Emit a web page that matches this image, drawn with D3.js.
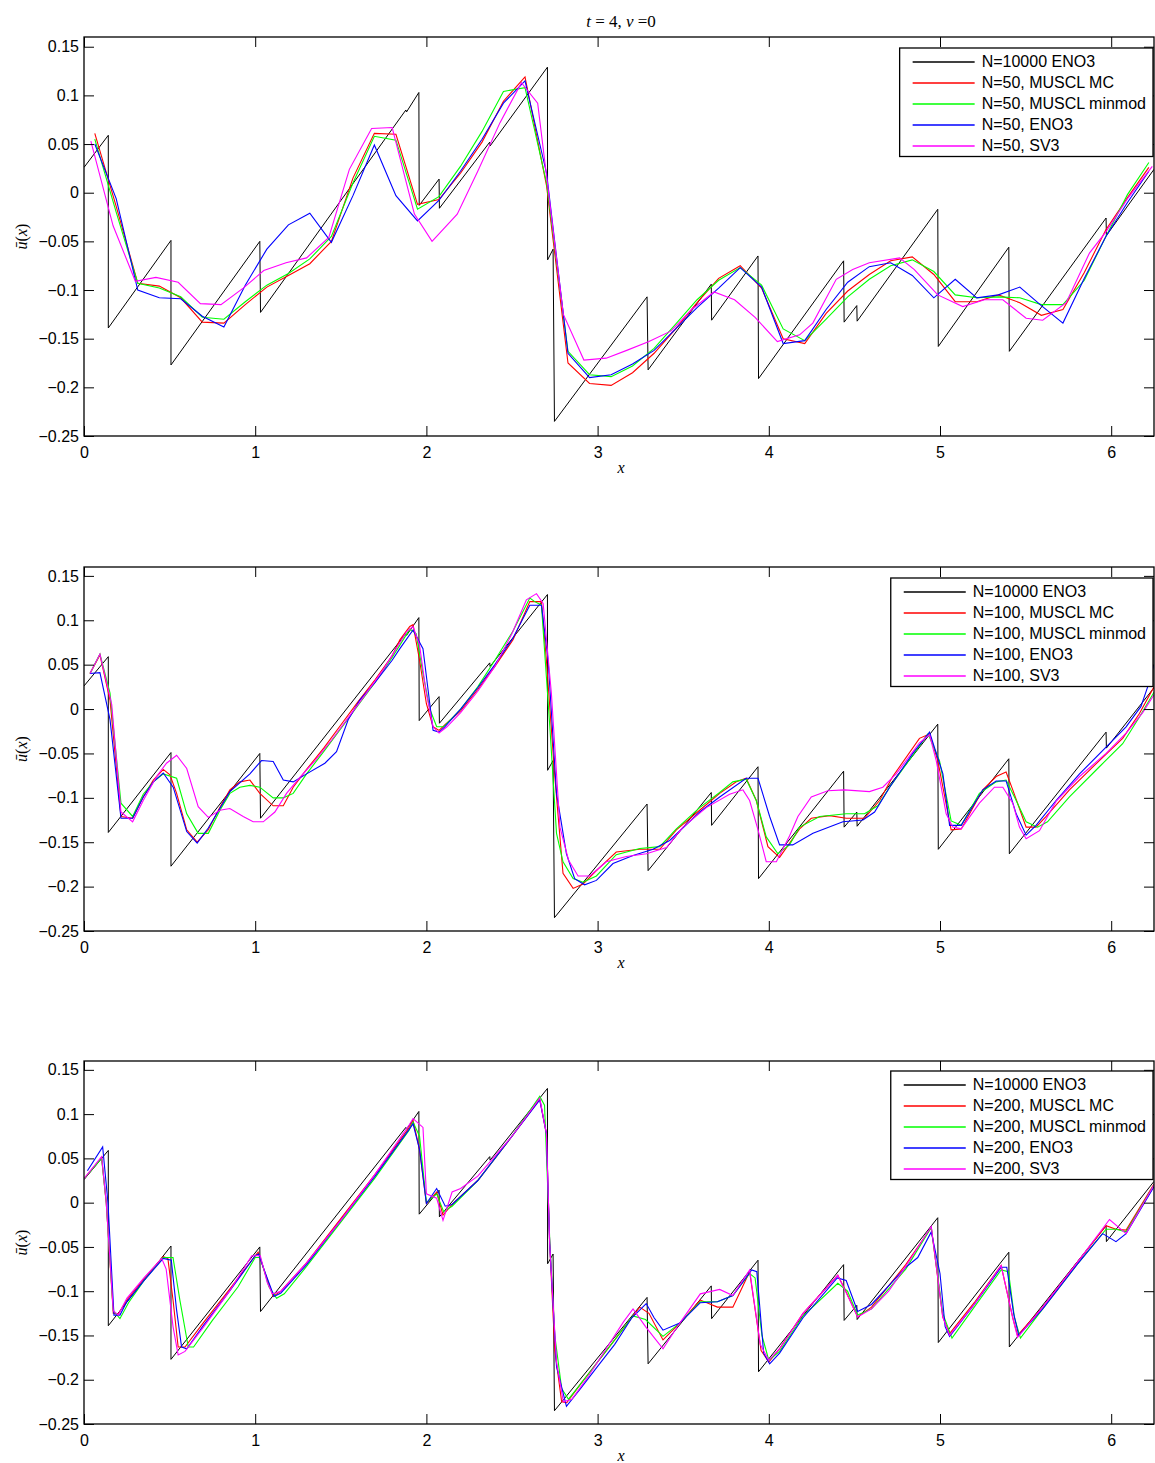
<!DOCTYPE html>
<html><head><meta charset="utf-8">
<script src="https://cdn.jsdelivr.net/npm/d3@7"></script>
<style>body{margin:0;background:#fff}svg{display:block}</style>
</head><body>
<script>
// ---------------- DATA ----------------
const xTicks = [0,1,2,3,4,5,6];
const yTicks = [-0.25,-0.2,-0.15,-0.1,-0.05,0,0.05,0.1,0.15];
const yTickLabels = ["\u22120.25","\u22120.2","\u22120.15","\u22120.1","\u22120.05","0","0.05","0.1","0.15"];
const seriesNames = ["MUSCL MC","MUSCL minmod","ENO3","SV3"];
const refLabel = "N=10000 ENO3";
const gridSizes = [50,100,200];
const titleText = ["t"," = 4, ","\u03bd"," =0"];

// reference solution (N=10000 ENO3), corners
const ref = [[0,0.026],[0.142,0.059],[0.142,-0.139],[0.508,-0.049],[0.508,-0.177],[1.027,-0.050],[1.031,-0.123],[1.88,0.085],[1.884,0.083],[1.956,0.103],[1.958,-0.013],[2.074,0.014],[2.076,-0.016],[2.37,0.052],[2.372,0.048],[2.707,0.129],[2.708,-0.069],[2.74,-0.058],[2.748,-0.235],[3.289,-0.107],[3.295,-0.182],[3.664,-0.094],[3.666,-0.131],[3.937,-0.065],[3.94,-0.191],[4.437,-0.070],[4.44,-0.133],[4.514,-0.116],[4.516,-0.132],[4.987,-0.017],[4.99,-0.158],[5.402,-0.056],[5.405,-0.163],[5.970,-0.026],[5.972,-0.044],[6.25,0.024]];

// N=50
const p1Red = [[0.063,0.061],[0.188,-0.014],[0.314,-0.093],[0.440,-0.096],[0.565,-0.108],[0.691,-0.133],[0.817,-0.134],[0.942,-0.115],[1.068,-0.097],[1.194,-0.085],[1.319,-0.073],[1.445,-0.050],[1.571,0.015],[1.696,0.061],[1.822,0.060],[1.948,-0.012],[2.073,-0.007],[2.199,0.020],[2.325,0.052],[2.450,0.094],[2.576,0.119],[2.702,0.007],[2.827,-0.175],[2.953,-0.196],[3.079,-0.198],[3.204,-0.185],[3.330,-0.165],[3.456,-0.140],[3.581,-0.113],[3.707,-0.088],[3.833,-0.075],[3.958,-0.098],[4.084,-0.150],[4.210,-0.155],[4.335,-0.124],[4.461,-0.101],[4.587,-0.084],[4.712,-0.070],[4.838,-0.066],[4.964,-0.084],[5.089,-0.112],[5.215,-0.112],[5.341,-0.105],[5.466,-0.113],[5.592,-0.126],[5.718,-0.120],[5.843,-0.082],[5.969,-0.038],[6.095,-0.005],[6.220,0.026]];
const p1Green = [[0.063,0.055],[0.188,-0.020],[0.314,-0.093],[0.440,-0.098],[0.565,-0.107],[0.691,-0.128],[0.817,-0.130],[0.942,-0.112],[1.068,-0.095],[1.194,-0.083],[1.319,-0.068],[1.445,-0.045],[1.571,0.010],[1.696,0.058],[1.822,0.054],[1.948,-0.017],[2.073,-0.004],[2.199,0.027],[2.325,0.063],[2.450,0.104],[2.576,0.108],[2.702,0.010],[2.827,-0.163],[2.953,-0.187],[3.079,-0.189],[3.204,-0.178],[3.330,-0.160],[3.456,-0.135],[3.581,-0.110],[3.707,-0.090],[3.833,-0.077],[3.958,-0.095],[4.084,-0.140],[4.210,-0.152],[4.335,-0.130],[4.461,-0.107],[4.587,-0.089],[4.712,-0.075],[4.838,-0.069],[4.964,-0.081],[5.089,-0.105],[5.215,-0.108],[5.341,-0.107],[5.466,-0.108],[5.592,-0.115],[5.718,-0.115],[5.843,-0.090],[5.969,-0.045],[6.095,-0.002],[6.220,0.031]];
const p1Blue = [[0.063,0.050],[0.188,-0.006],[0.314,-0.100],[0.440,-0.108],[0.565,-0.109],[0.691,-0.127],[0.817,-0.138],[0.942,-0.095],[1.068,-0.058],[1.194,-0.033],[1.319,-0.021],[1.445,-0.051],[1.571,-0.003],[1.696,0.049],[1.822,-0.003],[1.948,-0.029],[2.073,-0.008],[2.199,0.022],[2.325,0.055],[2.450,0.092],[2.576,0.115],[2.702,0.020],[2.827,-0.165],[2.953,-0.190],[3.079,-0.187],[3.204,-0.176],[3.330,-0.162],[3.456,-0.140],[3.581,-0.118],[3.707,-0.098],[3.833,-0.077],[3.958,-0.097],[4.084,-0.155],[4.210,-0.152],[4.335,-0.120],[4.461,-0.092],[4.587,-0.076],[4.712,-0.072],[4.838,-0.085],[4.964,-0.108],[5.089,-0.089],[5.215,-0.108],[5.341,-0.105],[5.466,-0.097],[5.592,-0.116],[5.718,-0.134],[5.843,-0.088],[5.969,-0.045],[6.095,-0.010],[6.220,0.022]];
const p1Magenta = [[0.040,0.053],[0.170,-0.034],[0.300,-0.091],[0.420,-0.087],[0.550,-0.092],[0.680,-0.114],[0.800,-0.115],[0.930,-0.098],[1.050,-0.080],[1.180,-0.072],[1.300,-0.067],[1.430,-0.046],[1.550,0.024],[1.680,0.066],[1.800,0.067],[1.930,-0.022],[2.033,-0.050],[2.180,-0.022],[2.300,0.022],[2.430,0.072],[2.555,0.113],[2.650,0.092],[2.800,-0.125],[2.920,-0.172],[3.050,-0.170],[3.170,-0.162],[3.300,-0.153],[3.430,-0.142],[3.550,-0.120],[3.680,-0.102],[3.800,-0.110],[3.920,-0.128],[4.050,-0.153],[4.180,-0.146],[4.257,-0.134],[4.394,-0.089],[4.490,-0.079],[4.587,-0.072],[4.764,-0.067],[4.850,-0.079],[4.987,-0.105],[5.133,-0.117],[5.260,-0.110],[5.367,-0.110],[5.503,-0.129],[5.600,-0.131],[5.737,-0.113],[5.873,-0.062],[5.970,-0.040],[6.100,-0.005],[6.240,0.027]];

// N=100
const p2Red = [[0.035,0.040],[0.093,0.061],[0.152,0.010],[0.216,-0.121],[0.284,-0.123],[0.346,-0.099],[0.405,-0.080],[0.463,-0.068],[0.502,-0.074],[0.541,-0.095],[0.600,-0.136],[0.661,-0.150],[0.726,-0.136],[0.790,-0.112],[0.852,-0.091],[0.910,-0.082],[0.969,-0.080],[1.027,-0.095],[1.105,-0.109],[1.164,-0.109],[1.222,-0.088],[1.300,-0.068],[1.400,-0.044],[1.500,-0.018],[1.600,0.008],[1.700,0.033],[1.800,0.060],[1.845,0.078],[1.903,0.093],[1.922,0.095],[1.960,0.055],[2.000,0.006],[2.039,-0.020],[2.074,-0.024],[2.107,-0.018],[2.200,-0.002],[2.300,0.022],[2.400,0.048],[2.506,0.078],[2.604,0.121],[2.672,0.121],[2.701,0.055],[2.750,-0.076],[2.798,-0.185],[2.857,-0.202],[2.915,-0.197],[2.993,-0.182],[3.109,-0.161],[3.246,-0.158],[3.363,-0.158],[3.460,-0.136],[3.596,-0.114],[3.713,-0.095],[3.810,-0.082],[3.868,-0.078],[3.927,-0.103],[3.995,-0.155],[4.063,-0.167],[4.180,-0.135],[4.248,-0.123],[4.355,-0.120],[4.452,-0.123],[4.559,-0.123],[4.647,-0.103],[4.724,-0.076],[4.880,-0.033],[4.939,-0.028],[4.987,-0.058],[5.065,-0.136],[5.124,-0.135],[5.250,-0.091],[5.328,-0.076],[5.386,-0.071],[5.425,-0.091],[5.503,-0.133],[5.561,-0.133],[5.620,-0.121],[5.756,-0.091],[5.931,-0.058],[6.067,-0.033],[6.165,-0.005],[6.250,0.025]];
const p2Green = [[0.035,0.040],[0.093,0.062],[0.152,0.018],[0.216,-0.106],[0.284,-0.121],[0.346,-0.096],[0.405,-0.082],[0.463,-0.073],[0.541,-0.078],[0.600,-0.118],[0.667,-0.140],[0.726,-0.140],[0.794,-0.114],[0.852,-0.095],[0.910,-0.088],[0.969,-0.086],[1.027,-0.088],[1.105,-0.100],[1.164,-0.100],[1.222,-0.095],[1.300,-0.073],[1.400,-0.048],[1.500,-0.022],[1.600,0.004],[1.700,0.030],[1.800,0.058],[1.845,0.072],[1.903,0.090],[1.940,0.085],[1.980,0.040],[2.020,0.000],[2.060,-0.020],[2.100,-0.020],[2.200,0.000],[2.300,0.025],[2.400,0.055],[2.506,0.088],[2.604,0.125],[2.633,0.121],[2.672,0.117],[2.721,-0.020],[2.760,-0.140],[2.798,-0.172],[2.857,-0.191],[2.915,-0.195],[2.993,-0.188],[3.109,-0.164],[3.246,-0.157],[3.363,-0.155],[3.460,-0.135],[3.596,-0.111],[3.713,-0.094],[3.790,-0.082],[3.868,-0.079],[3.927,-0.103],[3.985,-0.144],[4.053,-0.163],[4.121,-0.153],[4.180,-0.133],[4.297,-0.121],[4.452,-0.118],[4.559,-0.118],[4.637,-0.109],[4.706,-0.088],[4.841,-0.052],[4.930,-0.028],[4.997,-0.058],[5.065,-0.126],[5.124,-0.131],[5.230,-0.095],[5.328,-0.082],[5.386,-0.080],[5.445,-0.103],[5.503,-0.127],[5.570,-0.133],[5.628,-0.127],[5.756,-0.099],[5.931,-0.065],[6.067,-0.039],[6.165,-0.009],[6.250,0.019]];
const p2Blue = [[0.035,0.040],[0.093,0.041],[0.152,-0.012],[0.216,-0.123],[0.284,-0.123],[0.346,-0.099],[0.405,-0.082],[0.463,-0.072],[0.521,-0.088],[0.600,-0.138],[0.661,-0.151],[0.726,-0.134],[0.852,-0.093],[0.969,-0.073],[1.037,-0.058],[1.105,-0.059],[1.164,-0.080],[1.222,-0.082],[1.300,-0.073],[1.407,-0.061],[1.475,-0.048],[1.543,-0.012],[1.611,0.010],[1.700,0.030],[1.800,0.055],[1.845,0.068],[1.922,0.089],[1.980,0.068],[2.039,-0.024],[2.074,-0.026],[2.107,-0.020],[2.200,0.000],[2.300,0.024],[2.400,0.050],[2.506,0.080],[2.604,0.117],[2.672,0.117],[2.711,0.055],[2.760,-0.095],[2.818,-0.163],[2.866,-0.191],[2.924,-0.198],[2.993,-0.193],[3.090,-0.174],[3.207,-0.165],[3.324,-0.158],[3.421,-0.148],[3.596,-0.116],[3.713,-0.099],[3.868,-0.078],[3.937,-0.078],[4.005,-0.121],[4.063,-0.153],[4.140,-0.153],[4.258,-0.140],[4.433,-0.127],[4.550,-0.125],[4.618,-0.116],[4.706,-0.088],[4.841,-0.050],[4.939,-0.026],[5.017,-0.073],[5.056,-0.131],[5.124,-0.131],[5.250,-0.091],[5.328,-0.081],[5.386,-0.081],[5.445,-0.118],[5.503,-0.142],[5.561,-0.131],[5.678,-0.103],[5.815,-0.073],[5.970,-0.043],[6.087,-0.020],[6.174,0.003],[6.213,0.025],[6.250,0.050]];
const p2Magenta = [[0.035,0.040],[0.093,0.062],[0.162,0.005],[0.216,-0.116],[0.284,-0.127],[0.346,-0.103],[0.424,-0.076],[0.482,-0.061],[0.541,-0.052],[0.600,-0.067],[0.667,-0.110],[0.726,-0.122],[0.794,-0.114],[0.852,-0.112],[0.930,-0.121],[0.988,-0.127],[1.047,-0.127],[1.115,-0.116],[1.183,-0.095],[1.261,-0.077],[1.350,-0.058],[1.450,-0.034],[1.550,-0.008],[1.650,0.018],[1.750,0.045],[1.884,0.087],[1.922,0.093],[1.960,0.072],[2.000,0.017],[2.039,-0.020],[2.074,-0.027],[2.120,-0.020],[2.200,-0.004],[2.300,0.020],[2.400,0.048],[2.500,0.085],[2.584,0.123],[2.643,0.130],[2.682,0.119],[2.730,0.018],[2.780,-0.133],[2.830,-0.170],[2.886,-0.188],[2.954,-0.188],[3.051,-0.172],[3.168,-0.166],[3.285,-0.163],[3.402,-0.156],[3.499,-0.133],[3.635,-0.111],[3.771,-0.096],[3.849,-0.091],[3.888,-0.103],[3.937,-0.136],[3.985,-0.172],[4.044,-0.172],[4.121,-0.143],[4.170,-0.121],[4.248,-0.099],[4.345,-0.092],[4.441,-0.091],[4.588,-0.093],[4.666,-0.088],[4.744,-0.073],[4.880,-0.038],[4.939,-0.029],[4.978,-0.058],[5.036,-0.118],[5.075,-0.133],[5.124,-0.135],[5.230,-0.106],[5.318,-0.088],[5.367,-0.088],[5.425,-0.106],[5.464,-0.133],[5.503,-0.146],[5.581,-0.137],[5.678,-0.104],[5.815,-0.076],[5.970,-0.050],[6.087,-0.027],[6.184,-0.004],[6.250,0.016]];

// N=200
const p3Red = [[0.000,0.027],[0.103,0.051],[0.130,0.000],[0.171,-0.125],[0.200,-0.126],[0.250,-0.110],[0.350,-0.086],[0.463,-0.061],[0.490,-0.063],[0.520,-0.110],[0.550,-0.163],[0.590,-0.163],[0.700,-0.135],[0.850,-0.098],[1.000,-0.060],[1.017,-0.056],[1.050,-0.075],[1.105,-0.106],[1.150,-0.100],[1.300,-0.068],[1.500,-0.018],[1.700,0.032],[1.900,0.085],[1.922,0.093],[1.960,0.060],[2.000,-0.001],[2.060,0.012],[2.097,-0.014],[2.150,-0.002],[2.300,0.025],[2.500,0.075],[2.662,0.117],[2.701,0.078],[2.720,-0.046],[2.750,-0.167],[2.790,-0.225],[2.820,-0.226],[2.900,-0.205],[3.000,-0.180],[3.100,-0.155],[3.246,-0.118],[3.300,-0.125],[3.382,-0.155],[3.480,-0.136],[3.600,-0.110],[3.700,-0.118],[3.790,-0.118],[3.888,-0.078],[3.955,-0.167],[4.000,-0.180],[4.063,-0.165],[4.200,-0.125],[4.403,-0.082],[4.450,-0.100],[4.519,-0.129],[4.600,-0.118],[4.800,-0.070],[4.949,-0.028],[5.016,-0.129],[5.056,-0.148],[5.200,-0.113],[5.357,-0.071],[5.425,-0.130],[5.453,-0.150],[5.600,-0.118],[5.800,-0.068],[5.970,-0.026],[6.028,-0.030],[6.087,-0.031],[6.250,0.021]];
const p3Green = [[0.000,0.027],[0.103,0.050],[0.130,0.000],[0.171,-0.122],[0.210,-0.131],[0.260,-0.113],[0.350,-0.088],[0.463,-0.062],[0.520,-0.062],[0.560,-0.110],[0.609,-0.163],[0.640,-0.163],[0.750,-0.133],[0.900,-0.095],[1.000,-0.062],[1.030,-0.062],[1.080,-0.095],[1.125,-0.108],[1.170,-0.103],[1.300,-0.072],[1.500,-0.022],[1.700,0.028],[1.900,0.082],[1.922,0.091],[1.960,0.075],[2.000,0.000],[2.060,0.010],[2.100,-0.010],[2.150,-0.004],[2.300,0.025],[2.500,0.075],[2.662,0.120],[2.690,0.110],[2.720,-0.040],[2.750,-0.150],[2.790,-0.210],[2.830,-0.222],[2.900,-0.205],[3.000,-0.180],[3.100,-0.155],[3.207,-0.128],[3.280,-0.132],[3.382,-0.151],[3.480,-0.136],[3.600,-0.112],[3.700,-0.112],[3.790,-0.105],[3.888,-0.080],[3.920,-0.085],[3.960,-0.150],[4.000,-0.178],[4.063,-0.168],[4.200,-0.128],[4.403,-0.091],[4.460,-0.100],[4.519,-0.127],[4.600,-0.120],[4.800,-0.075],[4.949,-0.028],[5.016,-0.125],[5.070,-0.153],[5.200,-0.118],[5.357,-0.076],[5.400,-0.078],[5.435,-0.130],[5.470,-0.153],[5.600,-0.120],[5.800,-0.070],[5.970,-0.030],[6.028,-0.030],[6.087,-0.033],[6.250,0.020]];
const p3Blue = [[0.020,0.036],[0.109,0.063],[0.140,0.000],[0.175,-0.127],[0.210,-0.127],[0.250,-0.112],[0.350,-0.088],[0.463,-0.063],[0.510,-0.065],[0.540,-0.120],[0.570,-0.163],[0.600,-0.165],[0.700,-0.138],[0.850,-0.100],[1.000,-0.060],[1.020,-0.058],[1.060,-0.080],[1.110,-0.106],[1.150,-0.102],[1.300,-0.070],[1.500,-0.020],[1.700,0.030],[1.900,0.083],[1.922,0.089],[1.960,0.060],[2.000,-0.001],[2.060,0.016],[2.110,-0.004],[2.150,-0.002],[2.300,0.025],[2.500,0.075],[2.662,0.116],[2.701,0.078],[2.720,-0.046],[2.760,-0.185],[2.818,-0.230],[2.900,-0.210],[3.000,-0.185],[3.100,-0.160],[3.200,-0.130],[3.284,-0.114],[3.330,-0.130],[3.382,-0.144],[3.480,-0.136],[3.600,-0.113],[3.700,-0.112],[3.790,-0.105],[3.900,-0.076],[3.930,-0.078],[3.970,-0.170],[4.005,-0.182],[4.063,-0.170],[4.200,-0.130],[4.400,-0.085],[4.452,-0.088],[4.519,-0.123],[4.600,-0.115],[4.800,-0.073],[4.870,-0.062],[4.949,-0.033],[5.000,-0.080],[5.030,-0.140],[5.056,-0.151],[5.200,-0.115],[5.357,-0.073],[5.390,-0.073],[5.430,-0.125],[5.460,-0.150],[5.600,-0.120],[5.800,-0.070],[5.950,-0.035],[6.028,-0.044],[6.087,-0.035],[6.250,0.018]];
const p3Magenta = [[0.000,0.027],[0.103,0.052],[0.130,0.000],[0.171,-0.122],[0.200,-0.127],[0.250,-0.108],[0.350,-0.085],[0.454,-0.063],[0.480,-0.075],[0.520,-0.140],[0.550,-0.172],[0.590,-0.168],[0.700,-0.140],[0.850,-0.100],[0.980,-0.060],[1.030,-0.060],[1.070,-0.090],[1.100,-0.103],[1.150,-0.100],[1.300,-0.068],[1.500,-0.020],[1.700,0.032],[1.900,0.088],[1.922,0.095],[1.980,0.085],[2.000,0.010],[2.060,0.005],[2.097,-0.020],[2.150,0.012],[2.200,0.016],[2.300,0.030],[2.500,0.075],[2.662,0.118],[2.701,0.078],[2.720,-0.046],[2.760,-0.180],[2.800,-0.225],[2.850,-0.222],[2.950,-0.195],[3.050,-0.165],[3.150,-0.135],[3.207,-0.120],[3.280,-0.140],[3.382,-0.165],[3.480,-0.136],[3.600,-0.103],[3.713,-0.098],[3.790,-0.105],[3.888,-0.076],[3.950,-0.160],[4.000,-0.178],[4.063,-0.165],[4.200,-0.125],[4.403,-0.082],[4.460,-0.105],[4.519,-0.129],[4.600,-0.120],[4.700,-0.100],[4.800,-0.072],[4.949,-0.027],[5.016,-0.129],[5.056,-0.150],[5.200,-0.115],[5.357,-0.071],[5.425,-0.130],[5.453,-0.152],[5.600,-0.118],[5.800,-0.068],[5.990,-0.019],[6.087,-0.035],[6.250,0.020]];

const panelSeries = [
  [p1Red,p1Green,p1Blue,p1Magenta],
  [p2Red,p2Green,p2Blue,p2Magenta],
  [p3Red,p3Green,p3Blue,p3Magenta]
];

// ---------------- STYLE / LAYOUT ----------------
const W = 1155, H = 1463;
const colors = ["#ff0000","#00ff00","#0000ff","#ff00ff"];
const panels = [
  {top:37, bottom:436, legTop:48},
  {top:567, bottom:931, legTop:578},
  {top:1061, bottom:1424, legTop:1071}
];
const left = 84, right = 1154;
const sans = "'Liberation Sans', Arial, Helvetica, sans-serif";
const serif = "'Liberation Serif', 'DejaVu Serif', serif";

const svg = d3.select("body").append("svg").attr("width",W).attr("height",H)
  .style("font-family",sans);

const x = d3.scaleLinear().domain([0,6.25]).range([left,right]);

// title
const t = svg.append("text").attr("x",621).attr("y",27).attr("text-anchor","middle")
  .style("font-family",serif).style("font-size","17px");
t.append("tspan").style("font-style","italic").text(titleText[0]);
t.append("tspan").text(titleText[1]);
t.append("tspan").style("font-style","italic").text(titleText[2]);
t.append("tspan").text(titleText[3]);

const line = (ys) => d3.line().x(d=>x(d[0])).y(d=>ys(d[1]));

panels.forEach((p,pi) => {
  const y = d3.scaleLinear().domain([-0.25,0.16]).range([p.bottom,p.top]);
  const g = svg.append("g");
  const cid = "clip"+pi;
  svg.append("clipPath").attr("id",cid).append("rect")
    .attr("x",left).attr("y",p.top).attr("width",right-left).attr("height",p.bottom-p.top);

  const plot = g.append("g").attr("clip-path",`url(#${cid})`);
  const ln = line(y);
  plot.append("path").datum(ref).attr("d",ln).attr("fill","none").attr("stroke","#000").attr("stroke-width",1);
  panelSeries[pi].forEach((s,si) => {
    plot.append("path").datum(s).attr("d",ln).attr("fill","none")
      .attr("stroke",colors[si]).attr("stroke-width",1.1);
  });

  // axes (inward ticks, mirrored)
  const fmtY = v => yTickLabels[yTicks.indexOf(v)];
  const ax = g.append("g").style("font-family",sans).style("font-size","16px");
  ax.append("g").attr("transform",`translate(${left},0)`)
    .call(d3.axisLeft(y).tickValues(yTicks).tickFormat(fmtY).tickSizeInner(-10).tickSizeOuter(0).tickPadding(5));
  ax.append("g").attr("transform",`translate(${right},0)`)
    .call(d3.axisRight(y).tickValues(yTicks).tickFormat("").tickSizeInner(-10).tickSizeOuter(0));
  ax.append("g").attr("transform",`translate(0,${p.bottom})`)
    .call(d3.axisBottom(x).tickValues(xTicks).tickFormat(d3.format("d")).tickSizeInner(-10).tickSizeOuter(0).tickPadding(11));
  ax.append("g").attr("transform",`translate(0,${p.top})`)
    .call(d3.axisTop(x).tickValues(xTicks).tickFormat("").tickSizeInner(-10).tickSizeOuter(0));
  ax.selectAll(".domain").remove();
  ax.selectAll("text").attr("fill","#000").style("font-family",sans).style("font-size","16px");
  ax.selectAll(".tick line").attr("stroke","#000").attr("stroke-width",1);
  g.append("rect").attr("x",left).attr("y",p.top).attr("width",right-left).attr("height",p.bottom-p.top)
    .attr("fill","none").attr("stroke","#000").attr("stroke-width",1.3);

  // axis labels
  g.append("text").attr("x",621).attr("y",p.bottom+37).attr("text-anchor","middle")
    .style("font-family",serif).style("font-style","italic").style("font-size","16px").text("x");
  const yl = g.append("text").attr("transform",`translate(27,${(p.top+p.bottom)/2}) rotate(-90)`)
    .attr("text-anchor","middle").style("font-family",serif).style("font-size","16px");
  yl.append("tspan").style("font-style","italic").text("\u016b");
  yl.append("tspan").text("(");
  yl.append("tspan").style("font-style","italic").text("x");
  yl.append("tspan").text(")");

  // legend
  const N = gridSizes[pi];
  const labels = [refLabel].concat(seriesNames.map(n => `N=${N}, ${n}`));
  const lcol = ["#000"].concat(colors);
  const leg = g.append("g");
  const box = leg.append("rect").attr("fill","#fff").attr("stroke","#000").attr("stroke-width",1.3);
  const texts = labels.map((lb,i) => leg.append("text").attr("y",p.legTop+13.5+i*21).attr("dy","0.35em")
    .style("font-size","16px").text(lb));
  const tw = d3.max(texts, tx => tx.node().getComputedTextLength());
  const boxW = 13+62+7+tw+7;
  const bx = 1153 - boxW;
  box.attr("x",bx).attr("y",p.legTop).attr("width",boxW).attr("height",108.5);
  texts.forEach((tx,i) => {
    tx.attr("x",bx+82);
    leg.append("line").attr("x1",bx+13).attr("x2",bx+75)
      .attr("y1",p.legTop+14+i*21).attr("y2",p.legTop+14+i*21)
      .attr("stroke",lcol[i]).attr("stroke-width",1.5);
  });
});
</script>
</body></html>
